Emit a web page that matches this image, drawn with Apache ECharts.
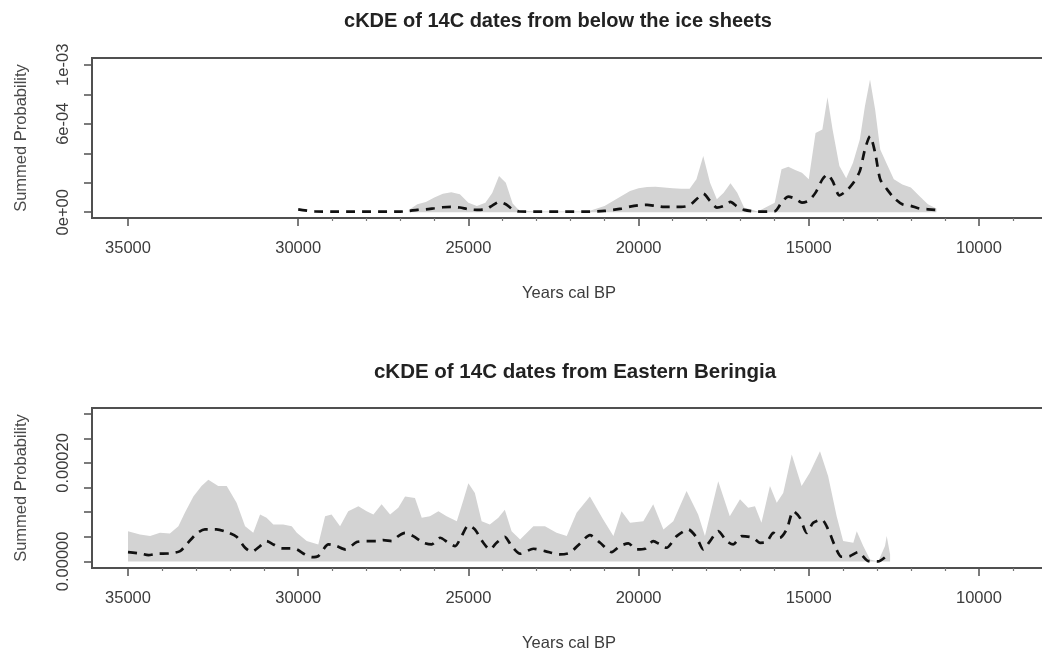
<!DOCTYPE html>
<html><head><meta charset="utf-8">
<script src="https://cdn.jsdelivr.net/npm/echarts@6/dist/echarts.min.js"></script>
<style>html,body{margin:0;padding:0;background:#fff}#c{width:1042px;height:656px}</style>
</head><body><div id="c"></div>
<script>
// ---------- Data ----------
const titleTop = 'cKDE of 14C dates from below the ice sheets';
const titleBottom = 'cKDE of 14C dates from Eastern Beringia';
const xName = 'Years cal BP';
const yName = 'Summed Probability';

const xTicks = [35000, 30000, 25000, 20000, 15000, 10000];
const xMinorTop = [29000, 28000, 27000, 26000, 24000, 23000, 22000, 21000, 19000, 18000, 17000, 16000, 14000, 13000, 12000, 11000, 9000];
const xMinorBottom = [34000, 33000, 32000, 31000, 29000, 28000, 27000, 26000, 24000, 23000, 22000, 21000, 19000, 18000, 17000, 16000, 14000, 13000, 12000, 11000, 9000];

const yTicksTop = [0, 0.0002, 0.0004, 0.0006, 0.0008, 0.001];
const yLabelValsTop = [0, 0.0006, 0.001];
const yLabelTextTop = ['0e+00', '6e-04', '1e-03'];

const yTicksBottom = [0, 0.00005, 0.0001, 0.00015, 0.0002, 0.00025, 0.0003];
const yLabelValsBottom = [0, 0.0002];
const yLabelTextBottom = ['0.00000', '0.00020'];

// Top panel: ribbon upper bound
const yearsTopUpper = [26750, 26500, 26250, 26000, 25750, 25500, 25250, 25000, 24750, 24500, 24300, 24100, 23900, 23700, 23500, 23000, 22500, 22000, 21500, 21000, 20750, 20500, 20250, 20000, 19750, 19500, 19250, 19000, 18750, 18500, 18300, 18100, 17900, 17700, 17500, 17300, 17100, 16900, 16500, 16000, 15800, 15600, 15400, 15200, 15000, 14800, 14600, 14450, 14300, 14100, 13900, 13700, 13500, 13350, 13200, 13050, 12900, 12700, 12500, 12250, 12000, 11750, 11500, 11250];
const upperTop = [1.6e-5, 5.4e-5, 7.0e-5, 1.0e-4, 1.26e-4, 1.35e-4, 1.22e-4, 6.5e-5, 4.3e-5, 6.5e-5, 1.3e-4, 2.45e-4, 2.0e-4, 6.0e-5, 1.0e-5, 5e-6, 5e-6, 5e-6, 5e-6, 4.3e-5, 7.7e-5, 1.1e-4, 1.44e-4, 1.62e-4, 1.71e-4, 1.73e-4, 1.67e-4, 1.62e-4, 1.6e-4, 1.6e-4, 2.23e-4, 3.81e-4, 2.0e-4, 8.8e-5, 1.33e-4, 1.96e-4, 1.33e-4, 3.2e-5, 5e-6, 6.5e-5, 2.91e-4, 3.09e-4, 2.86e-4, 2.68e-4, 2.23e-4, 5.38e-4, 5.61e-4, 7.8e-4, 5.61e-4, 3.13e-4, 2.3e-4, 3.35e-4, 4.93e-4, 7.18e-4, 9.0e-4, 6.96e-4, 4.26e-4, 3.24e-4, 2.23e-4, 1.89e-4, 1.67e-4, 1.1e-4, 5.4e-5, 2.5e-5];

// Top panel: mean (dashed)
const yearsTopMean = [30000, 29500, 29000, 28500, 28000, 27500, 27000, 26750, 26500, 26250, 26000, 25750, 25500, 25250, 25000, 24750, 24500, 24300, 24100, 23900, 23700, 23500, 23000, 22500, 22000, 21500, 21000, 20750, 20500, 20250, 20000, 19750, 19500, 19250, 19000, 18750, 18500, 18300, 18100, 17900, 17700, 17500, 17300, 17100, 16900, 16500, 16000, 15800, 15600, 15400, 15200, 15000, 14800, 14600, 14450, 14300, 14100, 13900, 13700, 13500, 13350, 13200, 13050, 12900, 12700, 12500, 12250, 12000, 11750, 11500, 11250];
const meanTop = [2.0e-5, 5e-6, 4e-6, 4e-6, 4e-6, 4e-6, 4e-6, 9e-6, 1.6e-5, 2.0e-5, 2.7e-5, 3.4e-5, 3.6e-5, 3.2e-5, 2.0e-5, 1.6e-5, 2.0e-5, 4.5e-5, 7.0e-5, 5.4e-5, 2.0e-5, 5e-6, 4e-6, 4e-6, 4e-6, 4e-6, 9e-6, 1.6e-5, 2.5e-5, 3.8e-5, 4.7e-5, 5.0e-5, 4.3e-5, 3.6e-5, 3.6e-5, 3.6e-5, 4.7e-5, 8.8e-5, 1.26e-4, 7.7e-5, 3.2e-5, 4.3e-5, 7.0e-5, 3.8e-5, 1.6e-5, 4e-6, 7e-6, 6.5e-5, 1.06e-4, 9.2e-5, 6.5e-5, 7.9e-5, 1.33e-4, 2.23e-4, 2.57e-4, 2.12e-4, 1.15e-4, 1.44e-4, 1.96e-4, 2.79e-4, 4.26e-4, 5.16e-4, 4.03e-4, 2.23e-4, 1.55e-4, 9.9e-5, 5.4e-5, 4.3e-5, 2.5e-5, 2.0e-5, 1.6e-5];

// Bottom panel: ribbon upper bound
const yearsBottomUpper = [35000, 34650, 34350, 34060, 33770, 33520, 33330, 33080, 32840, 32640, 32350, 32100, 31810, 31560, 31320, 31120, 30930, 30730, 30440, 30190, 30040, 29750, 29410, 29210, 29020, 28770, 28530, 28230, 27990, 27790, 27550, 27300, 27060, 26860, 26570, 26370, 26130, 25880, 25640, 25340, 25140, 25000, 24810, 24610, 24370, 24120, 23930, 23730, 23480, 23090, 22750, 22410, 22110, 21820, 21430, 21040, 20740, 20500, 20250, 19860, 19570, 19270, 18980, 18590, 18250, 18050, 17660, 17320, 17020, 16780, 16580, 16390, 16140, 15940, 15750, 15500, 15210, 14970, 14670, 14430, 14180, 13990, 13690, 13590, 13400, 13200, 12960, 12760, 12710, 12610];
const upperBottom = [6.15e-5, 5.47e-5, 5.14e-5, 5.81e-5, 5.68e-5, 7.16e-5, 9.87e-5, 1.32e-4, 1.53e-4, 1.66e-4, 1.53e-4, 1.53e-4, 1.19e-4, 7.16e-5, 5.81e-5, 9.53e-5, 8.85e-5, 7.5e-5, 7.5e-5, 7.16e-5, 5.81e-5, 4.12e-5, 3.45e-5, 9.19e-5, 9.53e-5, 7.16e-5, 1.02e-4, 1.12e-4, 1.02e-4, 9.53e-5, 1.16e-4, 9.53e-5, 1.09e-4, 1.32e-4, 1.29e-4, 8.85e-5, 9.19e-5, 1.02e-4, 9.19e-5, 8.18e-5, 1.26e-4, 1.59e-4, 1.39e-4, 8.18e-5, 7.5e-5, 8.85e-5, 1.05e-4, 6.15e-5, 4.46e-5, 7.16e-5, 7.16e-5, 5.81e-5, 5.14e-5, 9.87e-5, 1.32e-4, 8.51e-5, 5.14e-5, 1.02e-4, 7.84e-5, 8.18e-5, 1.16e-4, 6.49e-5, 8.18e-5, 1.43e-4, 9.53e-5, 5.14e-5, 1.63e-4, 9.19e-5, 1.26e-4, 1.09e-4, 1.12e-4, 7.84e-5, 1.53e-4, 1.19e-4, 1.39e-4, 2.17e-4, 1.53e-4, 1.8e-4, 2.24e-4, 1.73e-4, 9.19e-5, 4.12e-5, 3.78e-5, 6.15e-5, 3.11e-5, 4.1e-6, 0, 3.11e-5, 5.14e-5, 1.42e-5];

// Bottom panel: mean (dashed)
const yearsBottomMean = [35000, 34650, 34400, 34150, 33770, 33470, 33280, 32980, 32740, 32400, 32100, 31810, 31560, 31370, 31120, 30930, 30730, 30490, 30240, 30040, 29800, 29600, 29410, 29110, 28870, 28620, 28280, 27990, 27690, 27500, 27250, 27060, 26860, 26620, 26320, 26080, 25830, 25590, 25390, 25200, 25000, 24810, 24560, 24370, 24170, 23930, 23730, 23480, 23090, 22750, 22310, 22020, 21720, 21430, 21130, 20790, 20550, 20300, 20060, 19810, 19570, 19370, 19180, 18880, 18540, 18290, 18100, 17900, 17660, 17410, 17220, 16970, 16630, 16430, 16240, 16040, 15850, 15650, 15450, 15260, 15060, 14870, 14620, 14430, 14230, 14040, 13790, 13550, 13250, 12960, 12710, 12610];
const meanBottom = [1.89e-5, 1.62e-5, 1.28e-5, 1.55e-5, 1.62e-5, 2.09e-5, 3.45e-5, 5.68e-5, 6.49e-5, 6.49e-5, 5.95e-5, 5.0e-5, 2.77e-5, 1.96e-5, 3.11e-5, 4.12e-5, 3.45e-5, 2.64e-5, 2.64e-5, 2.43e-5, 1.42e-5, 8.8e-6, 1.08e-5, 3.45e-5, 3.11e-5, 2.43e-5, 3.92e-5, 4.12e-5, 4.12e-5, 4.32e-5, 4.12e-5, 5.14e-5, 5.81e-5, 5.14e-5, 3.78e-5, 3.45e-5, 4.8e-5, 3.78e-5, 3.11e-5, 5.14e-5, 7.3e-5, 6.49e-5, 3.78e-5, 2.43e-5, 3.78e-5, 5.0e-5, 3.11e-5, 1.55e-5, 2.57e-5, 2.09e-5, 1.42e-5, 1.76e-5, 3.65e-5, 5.34e-5, 3.78e-5, 1.89e-5, 3.11e-5, 3.65e-5, 2.43e-5, 2.57e-5, 4.12e-5, 3.45e-5, 2.77e-5, 5.14e-5, 6.49e-5, 4.8e-5, 2.43e-5, 4.12e-5, 6.15e-5, 4.12e-5, 3.45e-5, 5.14e-5, 4.8e-5, 3.78e-5, 3.92e-5, 5.81e-5, 4.8e-5, 6.49e-5, 1.02e-4, 8.85e-5, 5.81e-5, 7.84e-5, 8.51e-5, 6.49e-5, 3.11e-5, 9.5e-6, 1.08e-5, 1.89e-5, 7e-7, 0, 1.08e-5, 1.55e-5];

// ---------- Chart ----------
const FONT = '"Liberation Sans", Arial, Helvetica, sans-serif';
const X_MIN = 8030, X_MAX = 36058;
const BOX = '#505050';
const TXT = '#3c3c3c';

const pairs = (xs, ys) => xs.map((x, i) => [x, ys[i]]);
const lookup = (vals, texts) => v => {
  const i = vals.findIndex(t => Math.abs(t - v) < 1e-12);
  return i >= 0 ? texts[i] : '';
};

function mainX(gridIndex) {
  return {
    type: 'value', gridIndex, min: X_MIN, max: X_MAX, inverse: true, position: 'bottom',
    axisLine: { show: false, onZero: false }, splitLine: { show: false },
    axisTick: { show: true, customValues: xTicks, length: 8, lineStyle: { color: BOX, width: 1.5 } },
    axisLabel: { show: true, customValues: xTicks, margin: 22, fontSize: 16.5, color: TXT, fontFamily: FONT, formatter: v => String(v) },
    name: xName, nameLocation: 'middle', nameGap: 67,
    nameTextStyle: { fontSize: 16.5, color: TXT, fontFamily: FONT }
  };
}
function minorX(gridIndex, vals) {
  return {
    type: 'value', gridIndex, min: X_MIN, max: X_MAX, inverse: true, position: 'bottom',
    axisLine: { show: false, onZero: false }, splitLine: { show: false },
    axisTick: { show: true, customValues: vals, length: 3, lineStyle: { color: '#777', width: 1.2 } },
    axisLabel: { show: false }
  };
}
function yAx(gridIndex, min, max, ticks, lv, lt) {
  return {
    type: 'value', gridIndex, min, max, position: 'left',
    axisLine: { show: false, onZero: false }, splitLine: { show: false },
    axisTick: { show: true, customValues: ticks, length: 8, lineStyle: { color: BOX, width: 1.5 } },
    axisLabel: { show: true, customValues: lv, rotate: 90, margin: 20, fontSize: 16.5, color: TXT, fontFamily: FONT, formatter: lookup(lv, lt) },
    name: yName, nameLocation: 'middle', nameRotate: 90, nameGap: 62,
    nameTextStyle: { fontSize: 16.5, color: '#4a4a4a', fontFamily: FONT }
  };
}

const ribbon = (xi, yi, data) => ({
  type: 'line', xAxisIndex: xi, yAxisIndex: yi, data, symbol: 'none', silent: true, z: 1,
  lineStyle: { width: 0, opacity: 0 }, areaStyle: { color: '#d3d3d3', opacity: 1 }
});
const meanLine = (xi, yi, data) => ({
  type: 'line', xAxisIndex: xi, yAxisIndex: yi, data, symbol: 'none', silent: true, z: 3, smooth: 0.25,
  lineStyle: { color: '#111', width: 2.7, type: [9, 7] }
});

const chart = echarts.init(document.getElementById('c'), null, { renderer: 'canvas' });
chart.setOption({
  animation: false,
  backgroundColor: '#fff',
  title: [
    { text: titleTop, left: 553, top: 6, textAlign: 'center', textStyle: { fontSize: 20, fontWeight: 'bold', color: '#222', fontFamily: FONT } },
    { text: titleBottom, left: 570, top: 357, textAlign: 'center', textStyle: { fontSize: 20.5, fontWeight: 'bold', color: '#222', fontFamily: FONT } }
  ],
  grid: [
    { left: 92, top: 58, width: 954, height: 160, show: true, borderColor: BOX, borderWidth: 2, backgroundColor: 'transparent', containLabel: false, outerBoundsMode: 'none' },
    { left: 92, top: 408, width: 954, height: 160, show: true, borderColor: BOX, borderWidth: 2, backgroundColor: 'transparent', containLabel: false, outerBoundsMode: 'none' }
  ],
  xAxis: [mainX(0), minorX(0, xMinorTop), mainX(1), minorX(1, xMinorBottom)],
  yAxis: [
    yAx(0, -0.000039, 0.001046, yTicksTop, yLabelValsTop, yLabelTextTop),
    yAx(1, -0.0000134, 0.0003116, yTicksBottom, yLabelValsBottom, yLabelTextBottom)
  ],
  series: [
    ribbon(0, 0, pairs(yearsTopUpper, upperTop)),
    meanLine(0, 0, pairs(yearsTopMean, meanTop)),
    ribbon(2, 1, pairs(yearsBottomUpper, upperBottom)),
    meanLine(2, 1, pairs(yearsBottomMean, meanBottom))
  ]
});
</script>
</body></html>
